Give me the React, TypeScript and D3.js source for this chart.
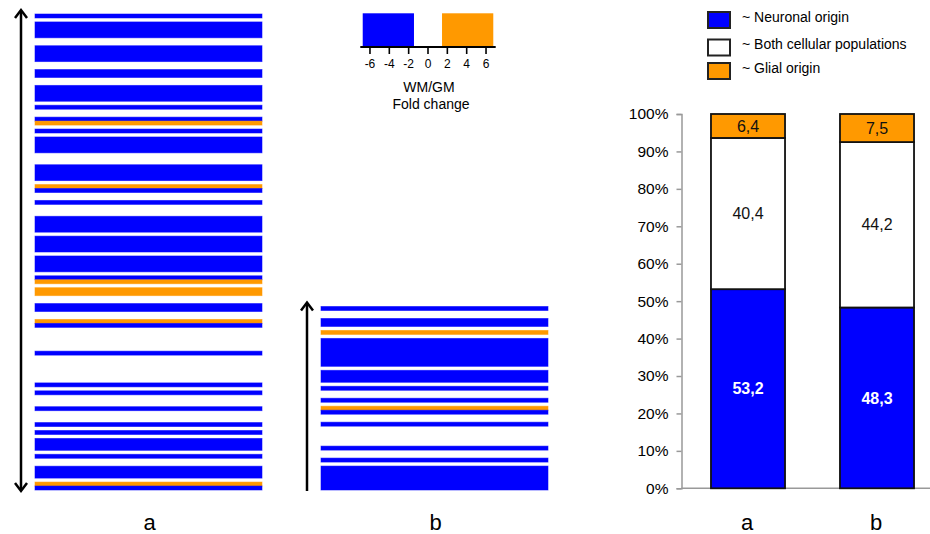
import React, { useEffect, useRef } from "react";
import * as d3 from "d3";

// heatmap rows, top to bottom, as [origin, number of rows]
// N = neuronal origin, B = both cellular populations, G = glial origin
const stripA: [string, number][] = [
  ["N", 1], ["B", 1], ["N", 4], ["B", 2], ["N", 4], ["B", 2], ["N", 2], ["B", 2],
  ["N", 4], ["B", 1], ["N", 1], ["B", 2], ["N", 1], ["G", 1], ["B", 1], ["N", 1],
  ["B", 1], ["N", 4], ["B", 3], ["N", 4], ["B", 1], ["G", 1], ["N", 1], ["B", 2],
  ["N", 1], ["B", 3], ["N", 4], ["B", 1], ["N", 4], ["B", 1], ["N", 4], ["B", 1],
  ["N", 1], ["G", 1], ["B", 1], ["G", 2], ["B", 2], ["N", 2], ["B", 2], ["G", 1],
  ["N", 1], ["B", 6], ["N", 1], ["B", 7], ["N", 1], ["B", 1], ["N", 1], ["B", 3],
  ["N", 1], ["B", 3], ["N", 1], ["B", 1], ["N", 1], ["B", 1], ["N", 3], ["B", 1],
  ["N", 1], ["B", 2], ["N", 3], ["B", 1], ["G", 1], ["N", 1],
];
const stripB: [string, number][] = [
  ["N", 1], ["B", 2], ["N", 2], ["B", 1], ["G", 1], ["B", 1], ["N", 7], ["B", 1],
  ["N", 3], ["B", 1], ["N", 1], ["B", 2], ["N", 1], ["B", 1], ["G", 1], ["N", 1],
  ["B", 2], ["N", 1], ["B", 5], ["N", 1], ["B", 2], ["N", 1], ["B", 1], ["N", 6],
];
const stripNames = ["a", "b"];

const originKeys = ["N", "B", "G"];
const originLabels = ["~ Neuronal origin", "~ Both cellular populations", "~ Glial origin"];
const originColors = ["#0000ff", "#ffffff", "#ff9900"];

// fold change colour key
const foldTicks = [-6, -4, -2, 0, 2, 4, 6];
const foldBands: [number, number][] = [[-6.75, -1.45], [1.45, 6.75]];
const foldBandColors = ["#0000ff", "#ff9900"];

// stacked percentages
const barGroups = ["a", "b"];
const neuronal = [53.2, 48.3];
const both = [40.4, 44.2];
const glial = [6.4, 7.5];
const percentTicks = [0, 10, 20, 30, 40, 50, 60, 70, 80, 90, 100];

const font = "'Liberation Sans', Arial, sans-serif";

const expand = (runs: [string, number][]) => {
  let start = 0;
  return runs.map(([key, n]) => {
    const r = { key, start, end: start + n };
    start += n;
    return r;
  });
};

export default function App() {
  const ref = useRef<SVGSVGElement>(null);

  useEffect(() => {
    const svg = d3.select(ref.current);
    svg.selectAll("*").remove();
    const color = d3.scaleOrdinal<string, string>().domain(originKeys).range(originColors);

    // ---- heatmaps
    const strips = [
      { runs: expand(stripA), x0: 35, x1: 262, top: 14, bottom: 490, arrowX: 21, both: true },
      { runs: expand(stripB), x0: 321, x1: 548, top: 306.5, bottom: 490, arrowX: 307, both: false },
    ];
    strips.forEach((s, i) => {
      const n = s.runs[s.runs.length - 1].end;
      const y = d3.scaleLinear().domain([0, n]).range([s.top, s.bottom]);
      const g = svg.append("g");
      g.selectAll("rect")
        .data(s.runs.filter((r) => r.key !== "B"))
        .enter()
        .append("rect")
        .attr("x", s.x0)
        .attr("width", s.x1 - s.x0)
        .attr("y", (r) => y(r.start))
        .attr("height", (r) => y(r.end) - y(r.start))
        .attr("fill", (r) => color(r.key))
        .attr("stroke", (r) => color(r.key))
        .attr("stroke-opacity", 0.6)
        .attr("stroke-width", 0.9);

      // arrow
      const yTop = y(0) - 4;
      const yBot = y(n) + 1;
      g.append("line")
        .attr("x1", s.arrowX).attr("x2", s.arrowX)
        .attr("y1", yTop + 1).attr("y2", s.both ? yBot - 1 : yBot)
        .attr("stroke", "black").attr("stroke-width", 2.5);
      const head = (yy: number, dir: number) =>
        g.append("polyline")
          .attr("points", `${s.arrowX - 6},${yy + dir * 8} ${s.arrowX},${yy} ${s.arrowX + 6},${yy + dir * 8}`)
          .attr("fill", "none").attr("stroke", "black").attr("stroke-width", 2.5)
          .attr("stroke-linejoin", "miter");
      head(yTop, 1);
      if (s.both) head(yBot, -1);

      svg.append("text")
        .attr("x", (s.x0 + s.x1) / 2 + 1)
        .attr("y", 530)
        .attr("text-anchor", "middle")
        .style("font-family", font)
        .style("font-size", "22px")
        .text(stripNames[i]);
    });

    // ---- fold change key
    const fx = d3.scaleLinear().domain([-7, 7]).range([360.3, 495.7]);
    const key = svg.append("g");
    key.selectAll("rect")
      .data(foldBands)
      .enter()
      .append("rect")
      .attr("x", (d) => fx(d[0]))
      .attr("width", (d) => fx(d[1]) - fx(d[0]))
      .attr("y", 13.3)
      .attr("height", 33)
      .attr("fill", (d, i) => foldBandColors[i]);
    key.append("line")
      .attr("x1", fx(-7)).attr("x2", fx(7))
      .attr("y1", 47).attr("y2", 47)
      .attr("stroke", "black").attr("stroke-width", 2);
    key.selectAll("line.tick")
      .data(foldTicks)
      .enter()
      .append("line")
      .attr("class", "tick")
      .attr("x1", (d) => fx(d)).attr("x2", (d) => fx(d))
      .attr("y1", 47).attr("y2", 54)
      .attr("stroke", "black").attr("stroke-width", 1.6);
    key.selectAll("text.tl")
      .data(foldTicks)
      .enter()
      .append("text")
      .attr("class", "tl")
      .attr("x", (d) => fx(d))
      .attr("y", 67.5)
      .attr("text-anchor", "middle")
      .style("font-family", font)
      .style("font-size", "12px")
      .text((d) => (d < 0 ? "-" + Math.abs(d) : String(d)));
    key.append("text")
      .attr("x", 429).attr("y", 91.5)
      .attr("text-anchor", "middle")
      .style("font-family", font).style("font-size", "14px")
      .text("WM/GM");
    key.append("text")
      .attr("x", 431).attr("y", 108.5)
      .attr("text-anchor", "middle")
      .style("font-family", font).style("font-size", "14px")
      .text("Fold change");

    // ---- legend
    const legY = [20, 47.5, 71];
    const leg = svg.append("g");
    originKeys.forEach((k, i) => {
      leg.append("rect")
        .attr("x", 708).attr("y", legY[i] - 8)
        .attr("width", 22).attr("height", 16)
        .attr("fill", color(k))
        .attr("stroke", "#222").attr("stroke-width", 2);
      leg.append("text")
        .attr("x", 742).attr("y", legY[i] + 1.5)
        .style("font-family", font).style("font-size", "14px")
        .text(originLabels[i]);
    });

    // ---- stacked bars
    const table = barGroups.map((g, i) => ({ group: g, N: neuronal[i], B: both[i], G: glial[i] }));
    const stacked = d3.stack<any>().keys(originKeys)(table);
    const x = d3.scaleBand().domain(barGroups).range([683.5, 941.5]).paddingInner(0.426).paddingOuter(0.213);
    const y = d3.scaleLinear().domain([0, 100]).range([488.3, 114]);

    const chart = svg.append("g");
    const yAxis = d3.axisLeft(y).tickValues(percentTicks).tickSize(5).tickFormat((d) => d + "%");
    const ya = chart.append("g").attr("transform", "translate(681.5,0)").call(yAxis);
    ya.select(".domain").attr("stroke", "#999").attr("stroke-width", 1.5);
    ya.selectAll(".tick line").attr("stroke", "#999").attr("stroke-width", 1.5);
    ya.selectAll(".tick text")
      .attr("x", -13)
      .attr("fill", "#000")
      .style("font-family", font)
      .style("font-size", "15.5px");
    chart.append("line")
      .attr("x1", 681.5).attr("x2", 930)
      .attr("y1", y(0)).attr("y2", y(0))
      .attr("stroke", "#999").attr("stroke-width", 1.5);

    stacked.forEach((layer) => {
      chart.append("g")
        .selectAll("rect")
        .data(layer)
        .enter()
        .append("rect")
        .attr("x", (d: any) => x(d.data.group) as number)
        .attr("width", x.bandwidth())
        .attr("y", (d) => y(d[1]))
        .attr("height", (d) => y(d[0]) - y(d[1]))
        .attr("fill", color(layer.key))
        .attr("stroke", "#111")
        .attr("stroke-width", 1.8);
      chart.append("g")
        .selectAll("text")
        .data(layer)
        .enter()
        .append("text")
        .attr("x", (d: any) => (x(d.data.group) as number) + x.bandwidth() / 2)
        .attr("y", (d) => y((d[0] + d[1]) / 2))
        .attr("dy", "0.35em")
        .attr("text-anchor", "middle")
        .attr("fill", layer.key === "N" ? "#fff" : "#111")
        .style("font-weight", layer.key === "N" ? "bold" : "normal")
        .style("font-family", font)
        .style("font-size", "16px")
        .text((d) => (Math.round((d[1] - d[0]) * 10) / 10).toFixed(1).replace(".", ","));
    });

    chart.selectAll("text.cat")
      .data(barGroups)
      .enter()
      .append("text")
      .attr("class", "cat")
      .attr("x", (d) => (x(d) as number) + x.bandwidth() / 2 - 1)
      .attr("y", 530)
      .attr("text-anchor", "middle")
      .style("font-family", font)
      .style("font-size", "22px")
      .text((d) => d);
  }, []);

  return (
    <svg
      ref={ref}
      width={930}
      height={534}
      style={{ position: "absolute", left: 0, top: 0, background: "#fff" }}
    />
  );
}
